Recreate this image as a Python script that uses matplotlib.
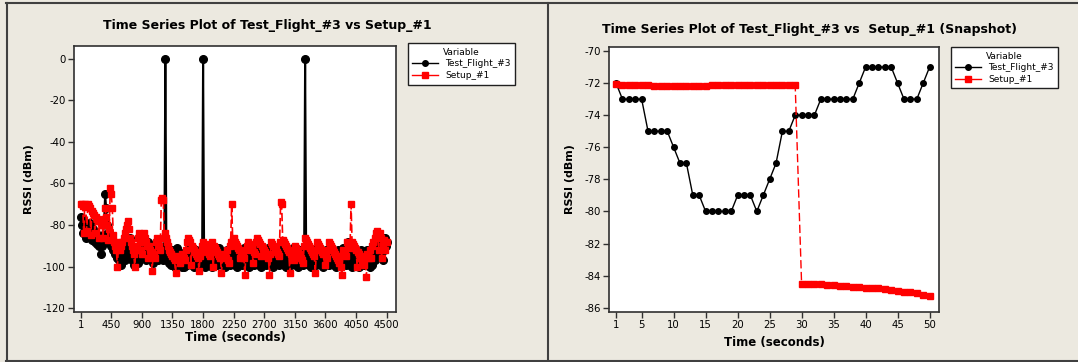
import matplotlib.pyplot as plt
from matplotlib.lines import Line2D

plt.rcParams.update({'font.size': 7, 'font.family': 'DejaVu Sans', 'axes.unicode_minus': False})

BG = '#ECE9E0'
W, H = 1078, 362

# Full flight, every 15 s
time_full = list(range(1, 4502, 15))
flight_full = [
    -76, -80, -84, -78, -82, -86, -80, -84, -85, -79, -83, -87, -82, -86, -88, -84, -89, -86, -90, -88,
    -94, -90, -85, -78, -65, -72, -80, -84, -88, -86, -90, -87, -92, -89, -94, -90, -96, -92, -97, -94,
    -99, -95, -90, -97, -93, -88, -95, -91, -86, -92, -97, -94, -99, -96, -91, -95, -98, -93, -90, -96,
    -93, -89, -95, -91, -97, -93, -88, -94, -90, -96, -92, -98, -94, -89, -95, -91, -97, -93, -90, -96,
    -92, -97, -93, 0, -90, -95, -91, -98, -94, -99, -92, -96, -100, -95, -91, -97, -93, -99, -95, -100,
    -96, -100, -97, -93, -99, -95, -91, -97, -93, -99, -95, -100, -96, -92, -98, -94, -100, -96, -92, -98,
    0, -94, -100, -96, -91, -97, -93, -99, -95, -100, -96, -92, -98, -94, -99, -95, -91, -97, -93, -99,
    -95, -100, -96, -92, -98, -94, -99, -95, -91, -97, -93, -99, -95, -100, -96, -92, -98, -94, -99, -95,
    -91, -97, -93, -99, -95, -100, -96, -92, -98, -94, -99, -95, -91, -97, -93, -99, -95, -100, -96, -92,
    -98, -94, -99, -95, -91, -97, -93, -99, -95, -100, -96, -92, -98, -94, -99, -95, -91, -97, -93, -99,
    -95, -100, -96, -92, -98, -94, -99, -95, -91, -97, -93, -99, -95, -100, -96, -92, -98, -94, -99, -95,
    0, -92, -97, -93, -99, -95, -100, -96, -92, -98, -94, -99, -95, -91, -97, -93, -99, -95, -100, -96,
    -92, -98, -94, -99, -95, -91, -97, -93, -99, -95, -100, -96, -92, -98, -94, -99, -95, -91, -97, -93,
    -99, -95, -88, -94, -99, -95, -100, -96, -92, -98, -94, -99, -95, -100, -96, -92, -98, -94, -99, -95,
    -96, -92, -98, -94, -100, -96, -99, -95, -97, -93, -90, -86, -92, -88, -95, -90, -97, -92, -86, -90,
    -88,
]
setup_full = [
    -70, -70, -71, -84, -70, -71, -83, -70, -71, -72, -85, -73, -74, -75, -84, -76, -77, -78, -86, -78,
    -79, -80, -86, -77, -72, -76, -80, -87, -82, -62, -65, -72, -85, -88, -90, -92, -100, -90, -88, -92,
    -90, -88, -86, -84, -82, -80, -78, -82, -86, -88, -90, -92, -94, -100, -92, -90, -86, -84, -88, -92,
    -94, -88, -84, -86, -88, -90, -96, -90, -92, -93, -102, -94, -95, -96, -88, -86, -88, -90, -92, -68,
    -67, -68, -86, -84, -86, -88, -90, -92, -93, -94, -95, -96, -97, -103, -95, -96, -97, -98, -96, -94,
    -95, -96, -97, -92, -88, -86, -87, -88, -99, -90, -91, -92, -93, -94, -95, -96, -102, -95, -93, -90,
    -88, -89, -90, -91, -92, -93, -94, -95, -89, -88, -100, -90, -91, -92, -93, -94, -95, -96, -103, -95,
    -94, -95, -96, -92, -97, -98, -90, -88, -70, -87, -86, -88, -89, -90, -91, -92, -96, -93, -94, -95,
    -96, -104, -92, -90, -88, -89, -90, -91, -92, -98, -93, -94, -88, -86, -87, -88, -89, -95, -90, -91,
    -92, -93, -94, -95, -96, -104, -94, -88, -89, -90, -91, -92, -93, -94, -95, -88, -69, -70, -87, -88,
    -89, -90, -91, -92, -93, -103, -94, -95, -96, -97, -90, -91, -92, -93, -94, -95, -96, -97, -98, -90,
    -86, -87, -88, -89, -90, -91, -92, -93, -94, -95, -103, -92, -88, -89, -90, -91, -92, -93, -94, -99,
    -95, -96, -92, -88, -89, -90, -91, -92, -93, -94, -95, -96, -97, -98, -95, -100, -104, -92, -93, -94,
    -95, -88, -89, -90, -91, -70, -88, -89, -90, -91, -92, -100, -93, -94, -95, -96, -97, -98, -99, -96,
    -105, -94, -95, -96, -92, -96, -90, -88, -86, -84, -83, -85, -92, -84, -86, -96, -90, -87, -92, -88,
    -88,
]

# Snapshot, first 50 seconds
time_snap = list(range(1, 51))
flight_snap = [
    -72, -73, -73, -73, -73, -75, -75, -75, -75, -76,
    -77, -77, -79, -79, -80, -80, -80, -80, -80, -79,
    -79, -79, -80, -79, -78, -77, -75, -75, -74, -74,
    -74, -74, -73, -73, -73, -73, -73, -73, -72, -71,
    -71, -71, -71, -71, -72, -73, -73, -73, -72, -71,
]
setup_snap = [
    -72.05, -72.1, -72.15, -72.15, -72.15, -72.15, -72.2, -72.2, -72.2, -72.2,
    -72.2, -72.2, -72.2, -72.2, -72.2, -72.15, -72.15, -72.15, -72.15, -72.15,
    -72.15, -72.15, -72.15, -72.1, -72.1, -72.1, -72.1, -72.1, -72.15, -84.55,
    -84.55, -84.55, -84.55, -84.6, -84.6, -84.65, -84.65, -84.7, -84.7, -84.75,
    -84.75, -84.8, -84.85, -84.9, -84.95, -85.0, -85.05, -85.1, -85.2, -85.3,
]

full_xticks = [1, 450, 900, 1350, 1800, 2250, 2700, 3150, 3600, 4050, 4500]
full_yticks = [0, -20, -40, -60, -80, -100, -120]
snap_xticks = [1, 5, 10, 15, 20, 25, 30, 35, 40, 45, 50]
snap_yticks = [-70, -72, -74, -76, -78, -80, -82, -84, -86]


def style_axes(ax):
    for s in ax.spines.values():
        s.set_color('#303030')
        s.set_linewidth(1.2)
    ax.tick_params(direction='out', length=4, width=1, labelsize=7.3,
                   color='#303030', top=False, right=False, pad=2)
    ax.set_facecolor('white')


fig = plt.figure(figsize=(W / 100, H / 100), dpi=100, facecolor=BG)

# Left: whole flight
ax1 = fig.add_axes([74 / W, 1 - 312 / H, 322 / W, 266 / H])
ax1.plot(time_full, flight_full, color='black', marker='o', ms=5.5, lw=1.5, label='Test_Flight_#3')
ax1.plot(time_full, setup_full, color='red', marker='s', ms=4.3, lw=1.2, ls='--', dashes=(5, 2),
         label='Setup_#1')
ax1.set_xlim(-97, 4637)
ax1.set_ylim(-121.8, 6.1)
ax1.set_xticks(full_xticks)
ax1.set_yticks(full_yticks)
style_axes(ax1)
ax1.set_xlabel('Time (seconds)', fontsize=8.5, fontweight='bold')
ax1.set_ylabel('RSSI (dBm)', fontsize=8, fontweight='bold')
ax1.xaxis.set_label_coords(0.5, -0.072)
ax1.yaxis.set_label_coords(-0.124, 0.5)

# Right: first 50 s
ax2 = fig.add_axes([609 / W, 1 - 312 / H, 330 / W, 265 / H])
ax2.plot(time_snap, flight_snap, color='black', marker='o', ms=4, lw=1, label='Test_Flight_#3')
ax2.plot(time_snap, setup_snap, color='red', marker='s', ms=4.2, lw=1, ls='--', dashes=(6, 2.5),
         label='Setup_#1')
ax2.set_xlim(-0.1, 51.47)
ax2.set_ylim(-86.27, -69.75)
ax2.set_xticks(snap_xticks)
ax2.set_yticks(snap_yticks)
style_axes(ax2)
ax2.set_xlabel('Time (seconds)', fontsize=8.5, fontweight='bold')
ax2.set_ylabel('RSSI (dBm)', fontsize=8, fontweight='bold')
ax2.xaxis.set_label_coords(0.5, -0.09)
ax2.yaxis.set_label_coords(-0.103, 0.5)

# legends, solid line handles like the original
for ax, x, y in [(ax1, 1.037, 1.011), (ax2, 1.036, 1.0)]:
    handles = [Line2D([], [], color='black', marker='o', ms=4, lw=1),
               Line2D([], [], color='red', marker='s', ms=4.5, lw=1)]
    leg = ax.legend(handles, ['Test_Flight_#3', 'Setup_#1'], title='Variable',
                    loc='upper left', bbox_to_anchor=(x, y), fontsize=6.5, title_fontsize=6.5,
                    frameon=True, fancybox=False, edgecolor='#202020', framealpha=1,
                    handlelength=2.8, borderpad=0.5, labelspacing=0.3, handletextpad=0.8,
                    borderaxespad=0)
    leg.get_frame().set_linewidth(1)

fig.text(267 / W, 1 - 26 / H, 'Time Series Plot of Test_Flight_#3 vs Setup_#1',
         ha='center', va='center', fontsize=9, fontweight='bold')
fig.text(810 / W, 1 - 29 / H, 'Time Series Plot of Test_Flight_#3 vs  Setup_#1 (Snapshot)',
         ha='center', va='center', fontsize=9, fontweight='bold')

# window frame lines
frame = [([6.5, 6.5], [3, 361]), ([6, W], [3, 3]), ([547.5, 547.5], [3, 361]), ([6, W], [360.5, 360.5])]
for xs, ys in frame:
    fig.add_artist(Line2D([v / W for v in xs], [1 - v / H for v in ys],
                          transform=fig.transFigure, color='#404040', lw=1.5))

plt.savefig('out.png', dpi=100, facecolor=BG)
